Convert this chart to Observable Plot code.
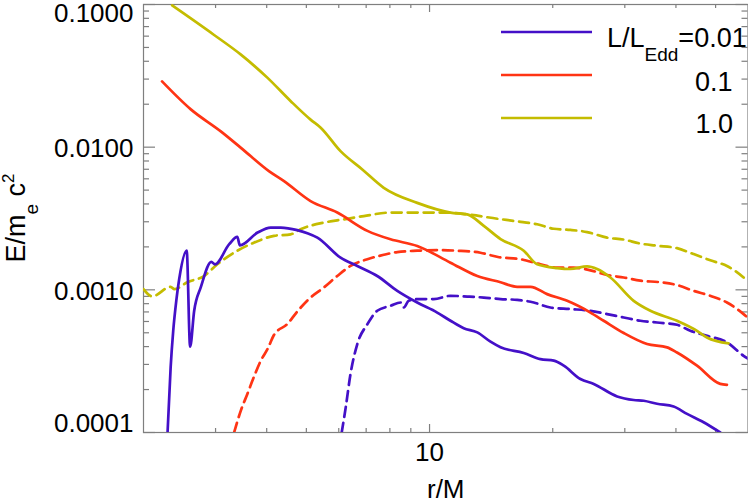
<!DOCTYPE html>
<html><head><meta charset="utf-8">
<script src="https://cdn.jsdelivr.net/npm/d3@7"></script>
<script src="https://cdn.jsdelivr.net/npm/@observablehq/plot@0.6"></script>
<style>body{margin:0;background:#fff;} #chart svg{display:block;}</style>
</head><body><div id="chart"></div>
<script>
// ---------------- data ----------------
// L/L_Edd = 0.01 (solid)
const r_s001 = [2.29, 2.33, 2.364, 2.405, 2.445, 2.55, 2.60, 2.66, 2.76, 2.93, 2.99, 3.24, 3.39, 3.44, 3.80, 4.09, 4.33, 4.75, 5.03, 5.32, 6.06, 6.66, 7.45, 8.34, 9.33, 10.44, 11.25, 12.12, 13.08, 14.09, 14.91, 16.99, 18.66, 20.12, 21.28, 23.37, 25.19, 28.73, 31.54, 33.37, 35.97, 39.48, 42.58, 46.73, 51.33];
const e_s001 = [1.0e-4, 2.86e-4, 5.16e-4, 8.37e-4, 1.19e-3, 1.88e-3, 3.99e-4, 7.13e-4, 1.04e-3, 1.57e-3, 1.51e-3, 2.09e-3, 2.35e-3, 2.05e-3, 2.52e-3, 2.73e-3, 2.73e-3, 2.62e-3, 2.49e-3, 2.32e-3, 1.68e-3, 1.47e-3, 1.25e-3, 9.84e-4, 8.15e-4, 6.93e-4, 6.07e-4, 5.38e-4, 5.03e-4, 4.33e-4, 3.96e-4, 3.61e-4, 3.27e-4, 3.19e-4, 2.94e-4, 2.37e-4, 2.19e-4, 1.79e-4, 1.69e-4, 1.67e-4, 1.59e-4, 1.52e-4, 1.35e-4, 1.18e-4, 1.0e-4];
// L/L_Edd = 0.1 (solid)
const r_s01 = [2.22, 2.61, 3.09, 3.46, 4.05, 4.41, 5.12, 5.95, 7.05, 8.03, 9.33, 11.25, 13.08, 14.91, 16.37, 17.65, 19.38, 21.69, 24.73, 26.64, 29.82, 34.0, 38.05, 40.24, 45.04, 51.33, 53.3];
const e_s01 = [2.89e-2, 1.84e-2, 1.29e-2, 9.89e-3, 6.79e-3, 5.78e-3, 4.19e-3, 3.48e-3, 2.59e-3, 2.26e-3, 2.03e-3, 1.55e-3, 1.25e-3, 1.13e-3, 1.05e-3, 1.05e-3, 9.33e-4, 8.37e-4, 6.93e-4, 6.07e-4, 4.98e-4, 4.17e-4, 3.95e-4, 3.64e-4, 2.94e-4, 2.19e-4, 2.16e-4];
// L/L_Edd = 1.0 (solid)
const r_s1 = [2.35, 2.97, 3.46, 4.02, 4.58, 5.12, 5.42, 6.06, 6.85, 7.73, 9.33, 11.25, 12.36, 13.57, 14.91, 16.99, 18.32, 20.50, 22.09, 24.27, 25.67, 27.67, 31.54, 34.64, 40.24, 45.04, 47.64, 53.79];
const e_s1 = [9.85e-2, 6.14e-2, 4.45e-2, 3.06e-2, 2.10e-2, 1.56e-2, 1.37e-2, 9.38e-3, 6.98e-3, 5.19e-3, 4.07e-3, 3.48e-3, 3.38e-3, 2.81e-3, 2.27e-3, 1.88e-3, 1.51e-3, 1.42e-3, 1.40e-3, 1.46e-3, 1.40e-3, 1.22e-3, 8.37e-4, 7.13e-4, 6.07e-4, 5.16e-4, 4.63e-4, 4.21e-4];
// L/L_Edd = 0.01 (dashed)
const r_d001 = [6.10, 6.24, 6.41, 6.66, 7.05, 7.45, 8.03, 8.50, 8.65, 8.89, 9.33, 10.24, 11.25, 12.36, 13.57, 14.91, 16.37, 17.97, 19.74, 22.09, 24.73, 27.16, 29.82, 32.74, 35.97, 40.24, 43.37, 47.64, 53.3, 58.53, 60];
const e_d001 = [1.0e-4, 1.50e-4, 2.57e-4, 4.17e-4, 5.75e-4, 7.13e-4, 7.73e-4, 8.15e-4, 7.52e-4, 8.37e-4, 8.61e-4, 8.61e-4, 9.08e-4, 8.97e-4, 8.83e-4, 8.61e-4, 8.51e-4, 8.15e-4, 7.52e-4, 7.33e-4, 7.13e-4, 6.76e-4, 6.40e-4, 6.07e-4, 5.90e-4, 5.69e-4, 5.16e-4, 4.76e-4, 4.28e-4, 3.45e-4, 3.29e-4];
// L/L_Edd = 0.1 (dashed)
const r_d01 = [3.33, 3.46, 3.59, 3.72, 3.87, 4.02, 4.17, 4.49, 4.75, 5.07, 5.52, 5.95, 6.41, 7.05, 7.73, 8.34, 9.33, 10.44, 11.68, 13.32, 14.7, 16.68, 18.66, 20.5, 22.5, 24.73, 27.16, 29.82, 32.74, 36.64, 40.24, 44.19, 48.53, 53.3, 58.53, 60];
const e_d01 = [1.0e-4, 1.43e-4, 1.87e-4, 2.44e-4, 3.19e-4, 3.85e-4, 4.84e-4, 5.75e-4, 7.04e-4, 8.61e-4, 1.04e-3, 1.25e-3, 1.47e-3, 1.64e-3, 1.76e-3, 1.84e-3, 1.88e-3, 1.90e-3, 1.88e-3, 1.82e-3, 1.70e-3, 1.64e-3, 1.51e-3, 1.43e-3, 1.43e-3, 1.37e-3, 1.27e-3, 1.22e-3, 1.16e-3, 1.13e-3, 1.08e-3, 9.84e-4, 9.08e-4, 8.15e-4, 6.76e-4, 6.37e-4];
// L/L_Edd = 1.0 (dashed)
const r_d1 = [2.0, 2.10, 2.33, 2.38, 2.56, 2.81, 3.03, 3.39, 3.72, 4.17, 4.58, 4.84, 5.52, 6.18, 6.91, 8.03, 9.33, 10.84, 12.36, 14.64, 16.37, 18.32, 20.12, 22.09, 24.27, 27.16, 29.82, 32.74, 35.97, 40.24, 44.19, 48.53, 53.3, 58.53, 60];
const e_d1 = [1.01e-3, 9.0e-4, 1.05e-3, 1.01e-3, 1.13e-3, 1.25e-3, 1.51e-3, 1.88e-3, 2.14e-3, 2.39e-3, 2.45e-3, 2.66e-3, 2.96e-3, 3.12e-3, 3.29e-3, 3.48e-3, 3.48e-3, 3.48e-3, 3.38e-3, 3.15e-3, 3.02e-3, 2.88e-3, 2.68e-3, 2.63e-3, 2.54e-3, 2.32e-3, 2.25e-3, 2.11e-3, 2.04e-3, 1.96e-3, 1.78e-3, 1.61e-3, 1.47e-3, 1.22e-3, 1.14e-3];

// axes / labels
const xDomain = [2, 60];
const yDomain = [1e-4, 0.1];
const xMajor = [10];
const xLabels = ["10"];
const xMinor = [3, 4, 5, 6, 7, 8, 9, 20, 30, 40, 50];
const yMajor = [1e-4, 1e-3, 1e-2, 1e-1];
const yLabels = ["0.0001", "0.0010", "0.0100", "0.1000"];
const legendNames = ["0.01", "0.1", "1.0"];
const xTitle = "r/M";

// ---------------- styling ----------------
const W = 748, H = 500, mL = 143, mR = 0.5, mT = 4, mB = 68;
const plotW = W - mL - mR, plotH = H - mT - mB;
const FONT = "'Liberation Sans', Arial, Helvetica, sans-serif";
const AXIS = "#7f7f7f";
const COLORS = ["#4410c8", "#ff3414", "#c4bc00"];
const DASH = "10,6";
const LW = 2.7;

const yMinor = yMajor.slice(0, -1).flatMap(d => [2,3,4,5,6,7,8,9].map(k => k * d));
const yLabelOf = new Map(yMajor.map((v, i) => [v, yLabels[i]]));
const xLabelOf = new Map(xMajor.map((v, i) => [v, xLabels[i]]));

const rows = (r, e) => r.map((x, i) => ({r: x, e: e[i]}));
const series = [
  {data: rows(r_d001, e_d001), color: COLORS[0], dash: true},
  {data: rows(r_d01, e_d01), color: COLORS[1], dash: true},
  {data: rows(r_d1, e_d1), color: COLORS[2], dash: true},
  {data: rows(r_s1, e_s1), color: COLORS[2], dash: false},
  {data: rows(r_s01, e_s01), color: COLORS[1], dash: false},
  {data: rows(r_s001, e_s001), color: COLORS[0], dash: false}
];

const lineMarks = series.map(s => Plot.line(s.data, Object.assign(
  {x: "r", y: "e", stroke: s.color, strokeWidth: LW, strokeLinejoin: "round", curve: "monotone-x", clip: true},
  s.dash ? {strokeDasharray: DASH} : {}
)));

const yTop = yMajor[yMajor.length - 1], yBot = yMajor[0];
const textBase = {fill: "#000", fontSize: 26, stroke: null};

const chart = Plot.plot({
  width: W, height: H,
  marginLeft: mL, marginRight: mR, marginTop: mT, marginBottom: mB,
  style: {fontFamily: FONT, background: "#fff", overflow: "visible"},
  x: {type: "log", domain: xDomain, axis: null},
  y: {type: "log", domain: yDomain, axis: null},
  marks: [
    Plot.frame({stroke: AXIS, strokeWidth: 1.2}),
    // x ticks bottom and top
    Plot.ruleX(xMinor, {x: d => d, insetTop: plotH - 4, stroke: AXIS, strokeWidth: 1.2}),
    Plot.ruleX(xMinor, {x: d => d, insetBottom: plotH - 4, stroke: AXIS, strokeWidth: 1.2}),
    Plot.ruleX(xMajor, {x: d => d, insetTop: plotH - 8, stroke: AXIS, strokeWidth: 1.2}),
    Plot.ruleX(xMajor, {x: d => d, insetBottom: plotH - 8, stroke: AXIS, strokeWidth: 1.2}),
    // y ticks left and right
    Plot.ruleY(yMinor, {y: d => d, insetRight: plotW - 6, stroke: AXIS, strokeWidth: 1.2}),
    Plot.ruleY(yMinor, {y: d => d, insetLeft: plotW - 6, stroke: AXIS, strokeWidth: 1.2}),
    Plot.ruleY(yMajor, {y: d => d, insetRight: plotW - 12, stroke: AXIS, strokeWidth: 1.2}),
    Plot.ruleY(yMajor, {y: d => d, insetLeft: plotW - 12, stroke: AXIS, strokeWidth: 1.2}),
    // lines
    ...lineMarks,
    // y tick labels
    Plot.text(yMajor.filter(d => d !== yTop && d !== yBot), {...textBase, y: d => d, text: d => yLabelOf.get(d), frameAnchor: "left", textAnchor: "end", dx: -10, dy: 1.5}),
    Plot.text([yTop], {...textBase, y: d => d, text: d => yLabelOf.get(d), frameAnchor: "left", textAnchor: "end", dx: -10, dy: 9}),
    Plot.text([yBot], {...textBase, y: d => d, text: d => yLabelOf.get(d), frameAnchor: "left", textAnchor: "end", dx: -10, dy: -8.7}),
    // x tick labels
    Plot.text(xMajor, {...textBase, x: d => d, text: d => xLabelOf.get(d), frameAnchor: "bottom", dy: 28}),
    // x title
    Plot.text([xTitle], {...textBase, text: d => d, frameAnchor: "bottom", lineAnchor: "bottom", dy: 65})
  ]
});

// ---------------- y title and legend (with sub/superscripts) ----------------
const svg = d3.select(chart);
const yt = svg.append("text")
  .attr("transform", `translate(25,${mT + plotH / 2}) rotate(-90)`)
  .attr("text-anchor", "middle")
  .attr("font-family", FONT).attr("font-size", 27).attr("fill", "#000");
yt.append("tspan").text("E/m");
yt.append("tspan").attr("font-size", 19).attr("dy", 13).text("e");
yt.append("tspan").attr("dy", -13).text(" c");
yt.append("tspan").attr("font-size", 17).attr("dy", -11).text("2");

const lg = svg.append("g").attr("font-family", FONT).attr("font-size", 27).attr("fill", "#000");
const legY = [32, 75, 118];
legY.forEach((y, i) => {
  lg.append("line").attr("x1", 501).attr("x2", 592).attr("y1", y).attr("y2", y)
    .attr("stroke", COLORS[i]).attr("stroke-width", LW);
});
const t0 = lg.append("text").attr("x", 607).attr("y", 46.5).attr("text-anchor", "start");
t0.append("tspan").text("L/L");
t0.append("tspan").attr("font-size", 19).attr("dy", 14).text("Edd");
t0.append("tspan").attr("dy", -14).text("=" + legendNames[0]);
lg.append("text").attr("x", 732.5).attr("y", 90.5).attr("text-anchor", "end").text(legendNames[1]);
lg.append("text").attr("x", 733).attr("y", 132.5).attr("text-anchor", "end").text(legendNames[2]);

document.getElementById("chart").appendChild(chart);
</script>
</body></html>
